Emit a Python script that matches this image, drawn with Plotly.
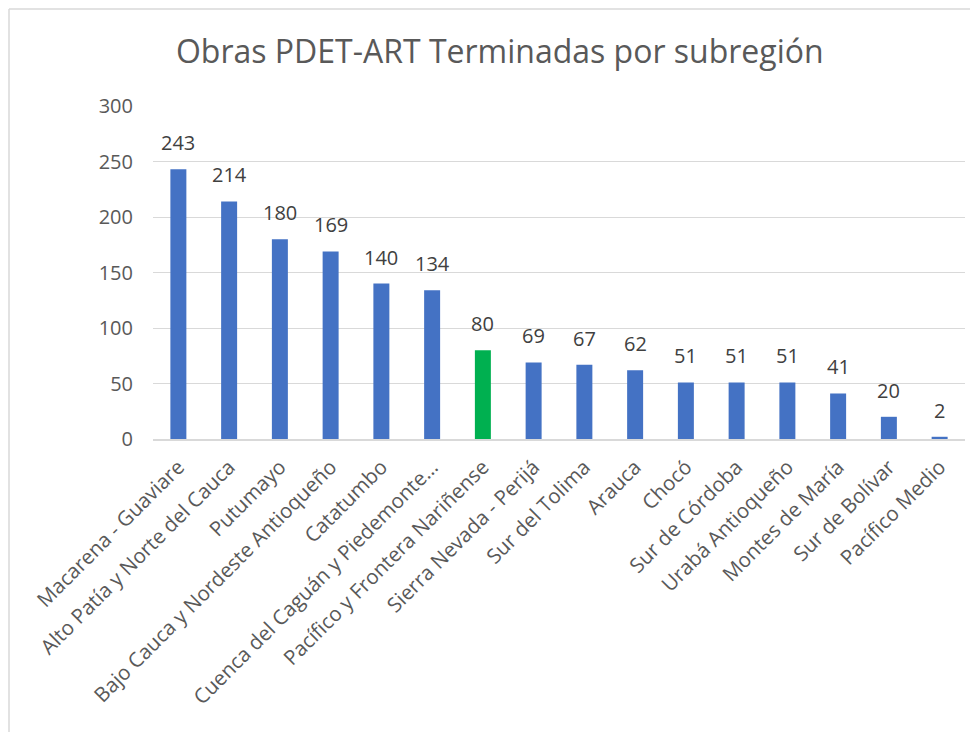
import plotly.graph_objects as go

categories = [
    "Macarena - Guaviare", "Alto Patía y Norte del Cauca", "Putumayo",
    "Bajo Cauca y Nordeste Antioqueño", "Catatumbo", "Cuenca del Caguán y Piedemonte…",
    "Pacífico y Frontera Nariñense", "Sierra Nevada - Perijá", "Sur del Tolima",
    "Arauca", "Chocó", "Sur de Córdoba", "Urabá Antioqueño", "Montes de María",
    "Sur de Bolívar", "Pacífico Medio",
]
values = [243, 214, 180, 169, 140, 134, 80, 69, 67, 62, 51, 51, 51, 41, 20, 2]
highlight = "Pacífico y Frontera Nariñense"
y_ticks = [0, 50, 100, 150, 200, 250, 300]

BLUE = "#4472C4"
GREEN = "#00B050"
colors = [GREEN if c == highlight else BLUE for c in categories]

FONT = "Open Sans"

fig = go.Figure(go.Bar(
    x=categories, y=values,
    marker=dict(color=colors, line=dict(width=0)),
    hoverinfo="x+y",
))

# page is offset by the 8px body margin
W, H = 970, 724
L, R, T, B = 145, 13, 98, 293
pw, ph = W - L - R, H - T - B

def px_x(p):
    return (p - L) / pw

def px_y(p):
    return (H - B - p) / ph

annotations = [
    dict(x=c, y=v, xref="x", yref="y", text=str(v), showarrow=False,
         yanchor="bottom", yshift=11,
         font=dict(family=FONT, size=20, color="#404040"))
    for c, v in zip(categories, values)
]

fig.update_layout(
    width=W, height=H,
    margin=dict(l=L, r=R, t=T, b=B, autoexpand=False),
    paper_bgcolor="white", plot_bgcolor="white",
    bargap=0.685,
    showlegend=False,
    title=dict(text="Obras PDET-ART Terminadas por subregión",
               font=dict(family=FONT, size=32, color="#595959"),
               x=0.507, xanchor="center", y=1 - 44 / H, yanchor="middle"),
    font=dict(family=FONT, color="#595959"),
    xaxis=dict(tickangle=-45, tickfont=dict(family=FONT, size=20.5, color="#595959"),
               showgrid=False, showline=True, linecolor="#D9D9D9", linewidth=2,
               ticks="outside", ticklen=6, tickcolor="rgba(0,0,0,0)",
               automargin=False),
    yaxis=dict(range=[0, 300], tickvals=y_ticks, showgrid=True, gridcolor="#D9D9D9",
               gridwidth=1, zeroline=False, ticks="outside", ticklen=15,
               tickcolor="rgba(0,0,0,0)",
               tickfont=dict(family=FONT, size=20, color="#595959"),
               automargin=False),
    annotations=annotations,
    shapes=[
        dict(type="line", xref="paper", yref="paper",
             x0=px_x(1), x1=px_x(1), y0=px_y(1), y1=px_y(H),
             line=dict(color="#D9D9D9", width=1.5)),
        dict(type="line", xref="paper", yref="paper",
             x0=px_x(1), x1=px_x(W), y0=px_y(1), y1=px_y(1),
             line=dict(color="#D9D9D9", width=1.5)),
    ],
)

fig.write_html("out.html")
